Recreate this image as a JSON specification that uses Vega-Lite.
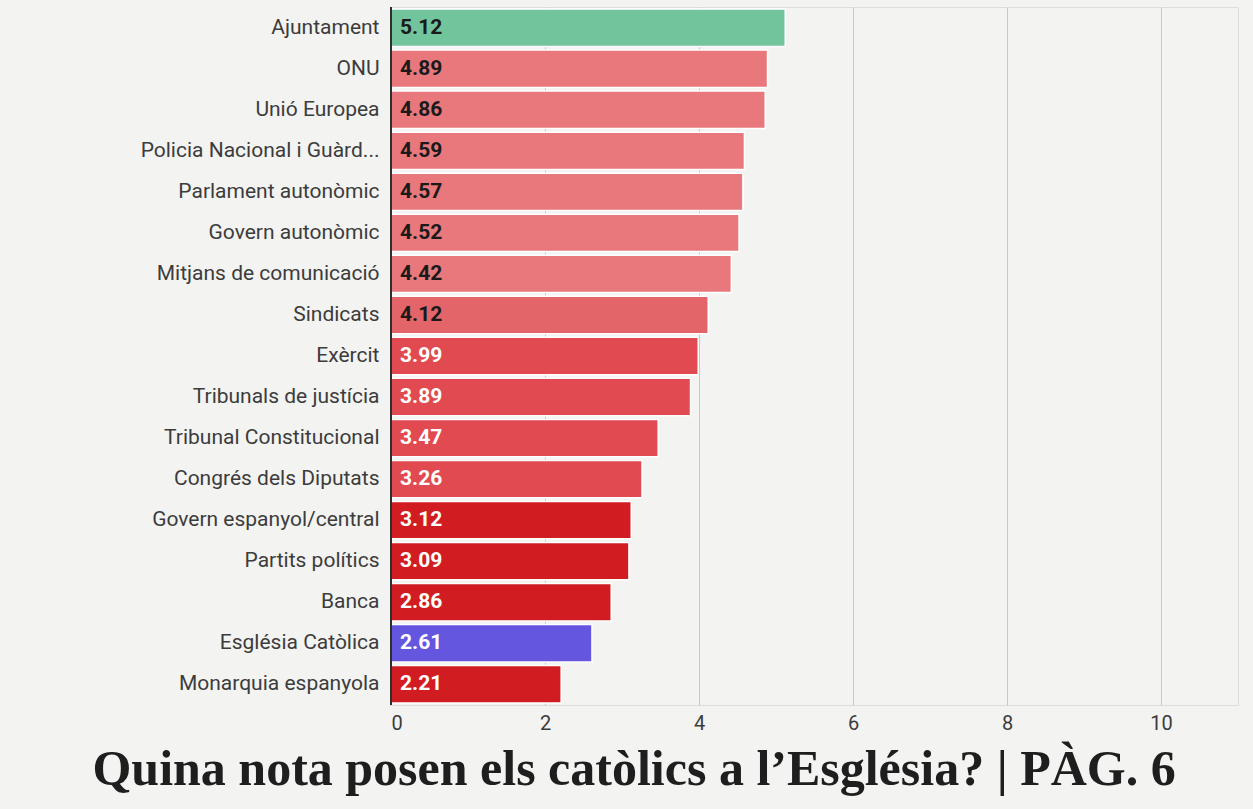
{
  "$schema": "https://vega.github.io/schema/vega-lite/v6.json",
  "width": 1253,
  "height": 809,
  "autosize": {"type": "fit", "contains": "padding"},
  "padding": {"left": 140, "right": 15, "top": 6, "bottom": 14},
  "background": "#f3f3f2",
  "title": {
    "text": "Quina nota posen els catòlics a l’Església? | PÀG. 6",
    "orient": "bottom",
    "anchor": "middle",
    "frame": "bounds",
    "dx": -55,
    "font": "Liberation Serif",
    "fontWeight": "bold",
    "fontSize": 50,
    "color": "#1e1e1e",
    "offset": 12
  },
  "data": {
    "values": [
      {"institucio": "Ajuntament", "nota": 5.12},
      {"institucio": "ONU", "nota": 4.89},
      {"institucio": "Unió Europea", "nota": 4.86},
      {"institucio": "Policia Nacional i Guàrd...", "nota": 4.59},
      {"institucio": "Parlament autonòmic", "nota": 4.57},
      {"institucio": "Govern autonòmic", "nota": 4.52},
      {"institucio": "Mitjans de comunicació", "nota": 4.42},
      {"institucio": "Sindicats", "nota": 4.12},
      {"institucio": "Exèrcit", "nota": 3.99},
      {"institucio": "Tribunals de justícia", "nota": 3.89},
      {"institucio": "Tribunal Constitucional", "nota": 3.47},
      {"institucio": "Congrés dels Diputats", "nota": 3.26},
      {"institucio": "Govern espanyol/central", "nota": 3.12},
      {"institucio": "Partits polítics", "nota": 3.09},
      {"institucio": "Banca", "nota": 2.86},
      {"institucio": "Església Catòlica", "nota": 2.61},
      {"institucio": "Monarquia espanyola", "nota": 2.21}
    ]
  },
  "encoding": {
    "y": {
      "field": "institucio",
      "type": "nominal",
      "sort": null,
      "scale": {"paddingInner": 0.09, "paddingOuter": 0.05},
      "axis": {
        "title": null,
        "domain": false,
        "ticks": false,
        "labelPadding": 12,
        "labelFontSize": 21,
        "labelFont": "Roboto",
        "labelColor": "#3c3c3c",
        "labelLimit": 330
      }
    },
    "x": {
      "field": "nota",
      "type": "quantitative",
      "scale": {"domain": [0, 11], "nice": false},
      "axis": {
        "title": null,
        "values": [0, 2, 4, 6, 8, 10],
        "domain": false,
        "ticks": false,
        "grid": true,
        "gridColor": "#c8c8c8",
        "gridWidth": 1,
        "labelFontSize": 20,
        "labelFont": "Roboto",
        "labelColor": "#3c3c3c",
        "labelPadding": 8
      }
    }
  },
  "layer": [
    {
      "mark": {"type": "bar", "stroke": "#ffffff", "strokeWidth": 1.5},
      "encoding": {
        "color": {
          "condition": [
            {"test": "datum.institucio === 'Ajuntament'", "value": "#72c49c"},
            {"test": "datum.institucio === 'Església Catòlica'", "value": "#6556e0"},
            {"test": "datum.nota >= 4.3", "value": "#e8787c"},
            {"test": "datum.nota >= 4.0", "value": "#e36469"},
            {"test": "datum.nota >= 3.2", "value": "#e04a50"}
          ],
          "value": "#d11d22"
        }
      }
    },
    {
      "mark": {"type": "rule", "color": "#2e2e2e", "strokeWidth": 2},
      "encoding": {"x": {"datum": 0}, "y": null}
    },
    {
      "mark": {"type": "text", "align": "left", "baseline": "middle", "dx": 9, "font": "Roboto", "fontWeight": "bold", "fontSize": 21},
      "encoding": {
        "x": {"datum": 0},
        "text": {"field": "nota", "type": "quantitative", "format": ".2f"},
        "color": {
          "condition": {"test": "datum.nota >= 4.0", "value": "#1a1a1a"},
          "value": "#ffffff"
        }
      }
    }
  ]
}
